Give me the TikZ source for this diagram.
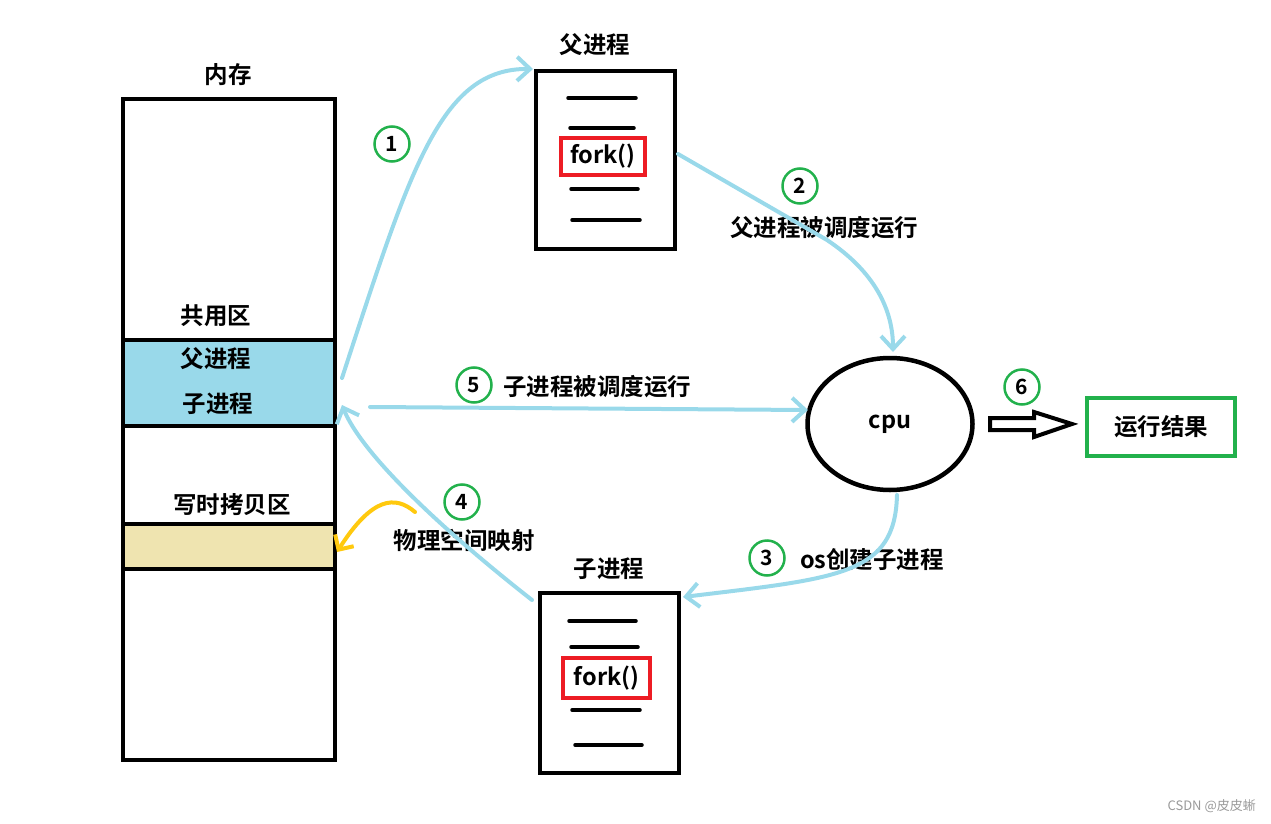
\documentclass[tikz,border=0pt]{standalone}
\usepackage{fontspec}
\setmainfont{Noto Sans CJK SC}[BoldFont={Noto Sans CJK SC Bold}]
\usetikzlibrary{arrows.meta,shapes.geometric}
\definecolor{lblue}{RGB}{153,217,234}
\definecolor{ltan}{RGB}{239,228,176}
\definecolor{cgreen}{RGB}{34,177,76}
\definecolor{cred}{RGB}{237,28,36}
\definecolor{cyellow}{RGB}{255,201,14}
\begin{document}
\begin{tikzpicture}[x=1pt,y=-1pt,
  txt/.style={font=\bfseries\fontsize{23.5}{27}\selectfont, inner sep=0pt},
  blk/.style={draw=black, line width=4.5pt, inner sep=0pt, outer sep=0pt},
  num/.style={circle, draw=cgreen, line width=2.5pt, minimum size=35pt, inner sep=0pt, font=\bfseries\fontsize{21}{24}\selectfont},
  bar/.style={line width=3.5pt, line cap=round},
  flow/.style={draw=lblue, line width=4pt, line cap=round, -{Straight Barb[length=13pt,width=24pt]}},
]
\useasboundingbox (0,0) rectangle (1271,824);
% memory
\fill[lblue] (123,340) rectangle (335,426);
\fill[ltan] (123,524) rectangle (335,569);
\node[blk, minimum width=212pt, minimum height=661pt, anchor=north west] (mem) at (123,99) {};
\draw[line width=4.5pt] (123,340) -- (335,340);
\draw[line width=4.5pt] (123,426) -- (335,426);
\draw[line width=4.5pt] (123,524) -- (335,524);
\draw[line width=4.5pt] (123,569) -- (335,569);
\node[txt] (memlbl) at (228,75) {内存};
\node[txt] (share) at (216,316) {共用区};
\node[txt] (mfa) at (216,359) {父进程};
\node[txt] (mzi) at (218,404) {子进程};
\node[txt] (cow) at (232,505) {写时拷贝区};
% parent box
\node[blk, minimum width=139pt, minimum height=178pt] (pbox) at (605.5,160) {};
\node[txt] (plbl) at (595,45) {父进程};
\draw[bar] (568,98) -- (636,98);
\draw[bar] (570,128) -- (634,128);
\draw[bar] (571,189) -- (638,189);
\draw[bar] (572,220) -- (640,220);
\node[txt, draw=cred, line width=3.5pt, minimum width=84pt, minimum height=37pt] (pfork) at (603,156.5) {fork()};
% child box
\node[blk, minimum width=139pt, minimum height=180pt] (cbox) at (609.5,683) {};
\node[txt] (clbl) at (609,569) {子进程};
\draw[bar] (569,621) -- (636,621);
\draw[bar] (571,647) -- (638,647);
\draw[bar] (572,710) -- (640,710);
\draw[bar] (575,745) -- (642,745);
\node[txt, draw=cred, line width=3.5pt, minimum width=87pt, minimum height=40pt] (cfork) at (606.5,678) {fork()};
% cpu and result
\node[blk, ellipse, minimum width=165pt, minimum height=132pt, txt] (cpu) at (890,424) {cpu};
\node[blk, draw=cgreen, minimum width=148pt, minimum height=58pt, txt] (res) at (1161,427) {运行结果};
% numbers
\node[num] (n1) at (392,144) {1};
\node[num] (n2) at (800,186) {2};
\node[num] (n3) at (767,558) {3};
\node[num] (n4) at (462,502) {4};
\node[num] (n5) at (474,385) {5};
\node[num] (n6) at (1022,387) {6};
% labels
\node[txt] (l2) at (824,228) {父进程被调度运行};
\node[txt] (l5) at (597,387) {子进程被调度运行};
\node[txt] (l3) at (872,560) {os创建子进程};
\node[txt] (l4) at (464,540) {物理空间映射};
% connector ends
\coordinate (a1s) at (342,378);
\coordinate (a1e) at (533,69);
\coordinate (a2s) at (678,154);
\coordinate (a2m) at (827,240);
\coordinate (a2e) at (893,352);
\coordinate (a3s) at (897,495);
\coordinate (a3e) at (683,597);
\coordinate (a5s) at (370,407);
\coordinate (a5e) at (808,410);
\coordinate (a4s) at (532,600);
\coordinate (a4e) at (342,405);
\coordinate (ys) at (415,512);
\coordinate (ye) at (337,552);
% arrows
\draw[flow] (a1s) .. controls (410,170) and (440,68) .. (a1e);
\draw[flow] (a2s) -- (a2m) .. controls (875,272) and (893,310) .. (a2e);
\draw[flow] (a3s) .. controls (895,575) and (840,578) .. (a3e);
\draw[flow] (a5s) -- (a5e);
\draw[flow] (a4s) .. controls (430,520) and (360,450) .. (a4e);
\draw[draw=cyellow, line width=4pt, line cap=round, -{Straight Barb[length=11pt,width=22pt]}] (ys) .. controls (395,495) and (372,497) .. (ye);
% hollow arrow 6
\draw[line width=4pt, line join=miter] (990,418) -- (1034,418) -- (1034,412) -- (1072,424) -- (1034,437) -- (1034,430) -- (990,430) -- cycle;
% watermark
\node[font=\fontsize{13}{15}\selectfont, text=gray!80, anchor=east, inner sep=0pt] (wm) at (1256,806) {CSDN @皮皮蜥};
\end{tikzpicture}
\end{document}
